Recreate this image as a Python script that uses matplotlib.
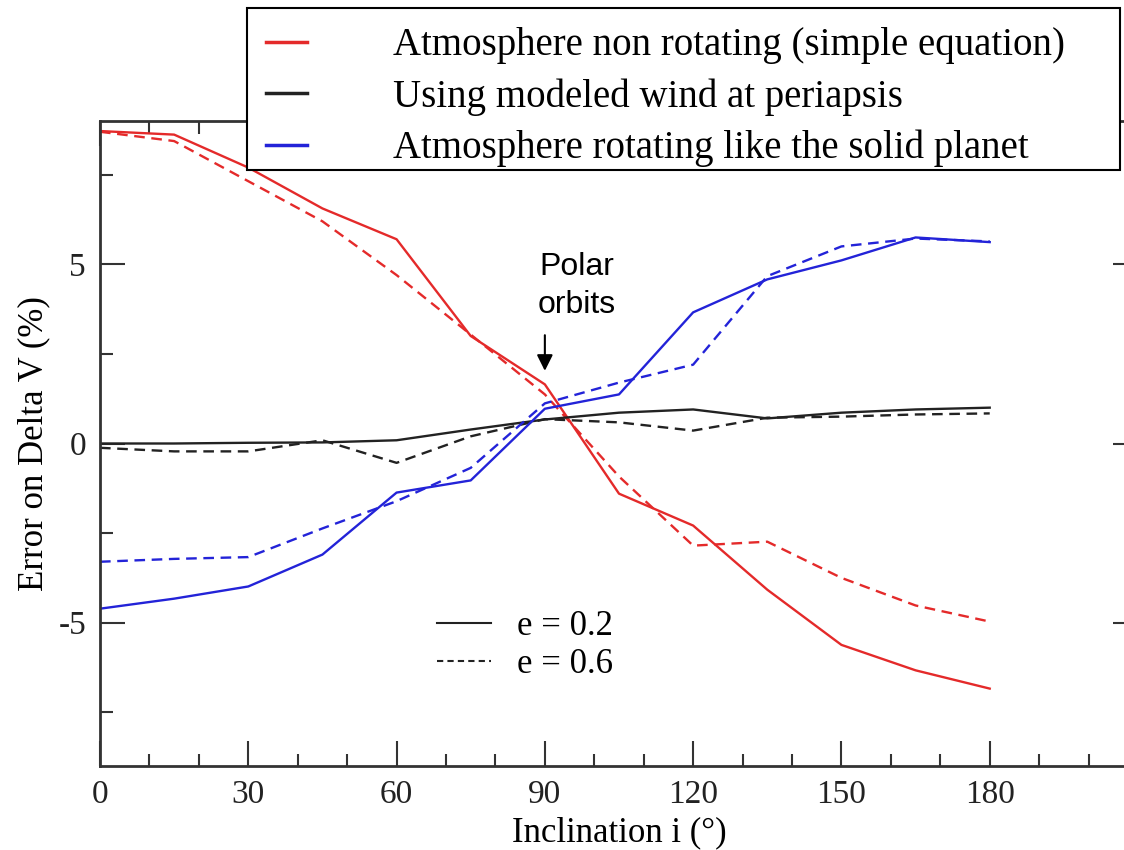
import numpy as np
import matplotlib.pyplot as plt
from matplotlib.lines import Line2D
from matplotlib.patches import Rectangle
from matplotlib.ticker import MultipleLocator

plt.rcParams['axes.unicode_minus'] = False

# inclination (deg)
incl = [0, 15, 30, 45, 60, 75, 90, 105, 120, 135, 150, 165, 180]

# error on delta V (%), e = 0.2 (solid) and e = 0.6 (dashed)
red_e02 = [8.72, 8.62, 7.7, 6.56, 5.7, 3.0, 1.65, -1.4, -2.29, -4.08, -5.62, -6.33, -6.84]
red_e06 = [8.7, 8.44, 7.32, 6.2, 4.7, 3.04, 1.37, -0.92, -2.85, -2.74, -3.75, -4.52, -4.97]
blk_e02 = [0.0, 0.0, 0.02, 0.03, 0.09, 0.39, 0.67, 0.86, 0.95, 0.7, 0.86, 0.95, 1.0]
blk_e06 = [-0.12, -0.22, -0.22, 0.09, -0.54, 0.2, 0.68, 0.59, 0.36, 0.72, 0.75, 0.81, 0.84]
blu_e02 = [-4.61, -4.33, -3.99, -3.1, -1.37, -1.03, 0.97, 1.37, 3.66, 4.58, 5.11, 5.75, 5.62]
blu_e06 = [-3.3, -3.22, -3.17, -2.37, -1.61, -0.68, 1.12, 1.7, 2.2, 4.67, 5.5, 5.72, 5.64]

labels = ["Atmosphere non rotating (simple equation)",
          "Using modeled wind at periapsis",
          "Atmosphere rotating like the solid planet"]
red = '#e42a2a'
black = '#222222'
blue = '#2323d8'

serif = ['Liberation Serif', 'DejaVu Serif']

fig = plt.figure(figsize=(11.24, 8.5), dpi=100)
ax = fig.add_axes([100/1124, 84/850, 1038/1124, 645/850])

lw = 1.7
dash = (0, (4.5, 2.8))
ax.plot(incl, red_e02, color=red, lw=lw)
ax.plot(incl, red_e06, color=red, lw=lw, ls=dash)
ax.plot(incl, blk_e02, color=black, lw=lw)
ax.plot(incl, blk_e06, color=black, lw=lw, ls=dash)
ax.plot(incl, blu_e02, color=blue, lw=lw)
ax.plot(incl, blu_e06, color=blue, lw=lw, ls=dash)

ax.set_xlim(0, 210)
ax.set_ylim(-9, 9)
ax.xaxis.set_minor_locator(MultipleLocator(10))
ax.yaxis.set_major_locator(MultipleLocator(5))
ax.yaxis.set_minor_locator(MultipleLocator(2.5))
ax.set_xticks([0, 30, 60, 90, 120, 150, 180])
ax.tick_params(which='both', direction='in', top=True, right=True,
               width=1.5, color='#333333', labelsize=24, pad=10)
ax.tick_params(which='major', length=18)
ax.tick_params(which='minor', length=9)
for lab in ax.get_xticklabels() + ax.get_yticklabels():
    lab.set_family(serif)
    lab.set_color('#222222')
for sp in ax.spines.values():
    sp.set_linewidth(2)
    sp.set_color('#333333')

ax.set_xlabel("Inclination i (°)", family=serif, fontsize=25, labelpad=4)
ax.set_ylabel("Error on Delta V (%)", family=serif, fontsize=25, labelpad=6)

# polar orbits note
ax.annotate("", xy=(90, 1.95), xytext=(90, 3.1),
            arrowprops=dict(arrowstyle='-|>', color='black', lw=1.5, mutation_scale=24))
ax.text(96.5, 4.4, "Polar\norbits", ha='center', va='center', fontsize=23,
        family='Liberation Sans', linespacing=1.35)

# eccentricity legend
e_handles = [Line2D([], [], color=black, lw=1.5),
             Line2D([], [], color=black, lw=1.5, ls=(0, (3, 2)))]
ax.legend(e_handles, ["e = 0.2", "e = 0.6"], loc='upper left',
          bbox_to_anchor=(306/1038, (766-579)/645), frameon=False,
          prop={'family': serif, 'size': 25}, handlelength=1.55,
          handletextpad=0.75, labelspacing=0.15)

# main legend: box drawn separately, entries placed inside it
box = Rectangle((247/1124, 1 - 170/850), 873/1124, 162/850, transform=fig.transFigure,
                facecolor='white', edgecolor='black', lw=1.5, zorder=4)
fig.add_artist(box)
handles = [Line2D([], [], color=red, lw=2.5),
           Line2D([], [], color=black, lw=2.5),
           Line2D([], [], color=blue, lw=2.5)]
leg = fig.legend(handles, labels, loc='upper left',
                 bbox_to_anchor=(247/1124, 1 - 8/850 - 0.01, 873/1124, 0.01), mode='expand',
                 prop={'family': serif, 'size': 28}, handlelength=1.05,
                 handletextpad=2.2, labelspacing=0.36, frameon=False,
                 borderpad=0.5, borderaxespad=0)
leg.set_zorder(5)

fig.savefig("out.png", dpi=100)
